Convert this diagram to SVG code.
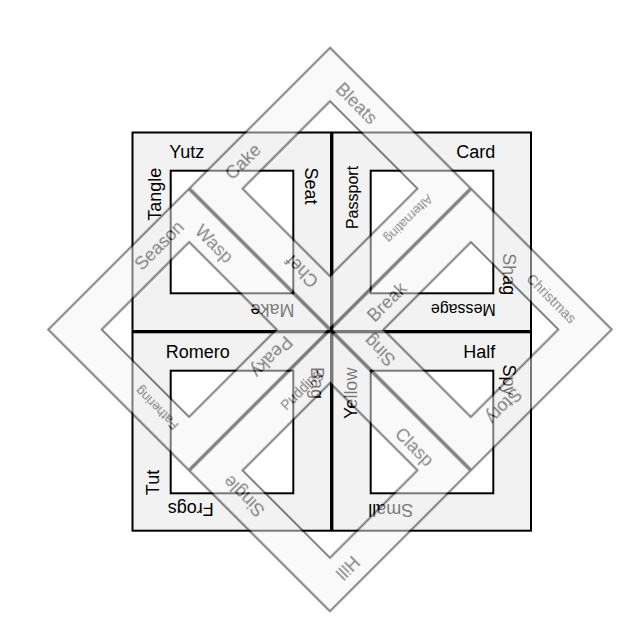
<svg xmlns="http://www.w3.org/2000/svg" width="640" height="640" viewBox="0 0 640 640">
<style>
.band{fill:#f2f2f2;stroke:#000;stroke-width:2}
.hole{fill:#fff;stroke:#000;stroke-width:2}
.b2{fill:#f2f2f2;stroke:#000;stroke-width:2;fill-rule:evenodd}
text{font-family:"Liberation Sans",Arial,sans-serif;font-size:18px;fill:#000;text-anchor:middle}
.s{font-size:16px}
.xs{font-size:13px}
.m{font-size:14px}
</style>
<rect width="640" height="640" fill="#fff"/>
<g id="layer1">
<g id="block-tl">
<rect class="band" x="132.5" y="132.5" width="198.5" height="198.5"/>
<rect class="hole" x="170.7" y="170.7" width="122.6" height="122.6"/>
<text transform="translate(186.7,151.7)" y="6.4">Yutz</text>
<text transform="translate(155,194.2) rotate(-90)" y="5.5">Tangle</text>
<text transform="translate(311.6,186) rotate(90)" y="6.4">Seat</text>
<text transform="translate(272.5,310) rotate(180)" y="6.4">Make</text>
</g>
<g id="block-tr">
<rect class="band" x="332.4" y="132.5" width="198.6" height="198.5"/>
<rect class="hole" x="370.7" y="170.7" width="122.6" height="122.6"/>
<text transform="translate(475.8,151.7)" y="6.4">Card</text>
<text class="s" transform="translate(353.3,197.5) rotate(-90)" y="4.5">Passport</text>
<text transform="translate(507.5,274.2) rotate(90)" y="5">Shag</text>
<text class="s" transform="translate(463.3,308.3) rotate(180)" y="4.5">Message</text>
</g>
<g id="block-bl">
<rect class="band" x="132.5" y="332.3" width="198.5" height="198.4"/>
<rect class="hole" x="170.7" y="370.7" width="122.6" height="122.6"/>
<text transform="translate(197.8,351.7)" y="6.4">Romero</text>
<text transform="translate(152.5,482.5) rotate(-90)" y="6.4">Tut</text>
<text transform="translate(316,383) rotate(90)" y="5">Bag</text>
<text transform="translate(190.8,508.3) rotate(180)" y="5">Frogs</text>
</g>
<g id="block-br">
<rect class="band" x="332.4" y="332.3" width="198.6" height="198.4"/>
<rect class="hole" x="370.7" y="370.7" width="122.6" height="122.6"/>
<text transform="translate(479.2,351.7)" y="6.4">Half</text>
<text transform="translate(351.5,393.3) rotate(-90)" y="5.5">Yellow</text>
<text transform="translate(508.3,380) rotate(90)" y="5">Spy</text>
<text transform="translate(390.8,510) rotate(180)" y="6.4">Small</text>
</g>
</g>
<g id="layer2" opacity="0.5" transform="rotate(45 330 329.5)">
<g id="block-top">
<path class="b2" d="M130.8 130.3H329.3V328.8H130.8Z M168.6 168.1H292.2V291.7H168.6Z"/>
<text transform="translate(188.9,150.7)" y="6.4">Bleats</text>
<text transform="translate(150,272.2) rotate(-90)" y="6.4">Cake</text>
<text class="xs" transform="translate(306.7,195.5) rotate(90)" y="3.5">Alternating</text>
<text transform="translate(269.1,308.6) rotate(180)" y="6.4">Chef</text>
</g>
<g id="block-right">
<path class="b2" d="M330.7 130.3H529.2V328.8H330.7Z M367.8 168.1H491.4V291.7H367.8Z"/>
<text class="m" transform="translate(464.7,150.7)" y="5">Christmas</text>
<text transform="translate(350.4,269.7) rotate(-90)" y="6.4">Break</text>
<text transform="translate(505.7,260.6) rotate(90)" y="5">Story</text>
<text transform="translate(379.9,307.5) rotate(180)" y="5">Sing</text>
</g>
<g id="block-left">
<path class="b2" d="M130.8 330.2H329.3V528.7H130.8Z M168.6 367.3H292.2V490.9H168.6Z"/>
<text transform="translate(187.7,352.3)" y="5">Wasp</text>
<text transform="translate(149.3,390.7) rotate(-90)" y="6.4">Season</text>
<text transform="translate(306.7,390) rotate(90)" y="5">Peaky</text>
<text class="xs" transform="translate(263.2,506.6) rotate(180)" y="3.5">Fathering</text>
</g>
<g id="block-bottom">
<path class="b2" d="M330.7 330.2H529.2V528.7H330.7Z M367.8 367.3H491.4V490.9H367.8Z"/>
<text transform="translate(472.8,353.5)" y="5">Clasp</text>
<text class="m" transform="translate(352.8,392.3) rotate(-90)" y="4">Pudding</text>
<text transform="translate(511.8,485.4) rotate(90)" y="6.4">Hill</text>
<text transform="translate(386.9,506.6) rotate(180)" y="5">Single</text>
</g>
</g>
</svg>
